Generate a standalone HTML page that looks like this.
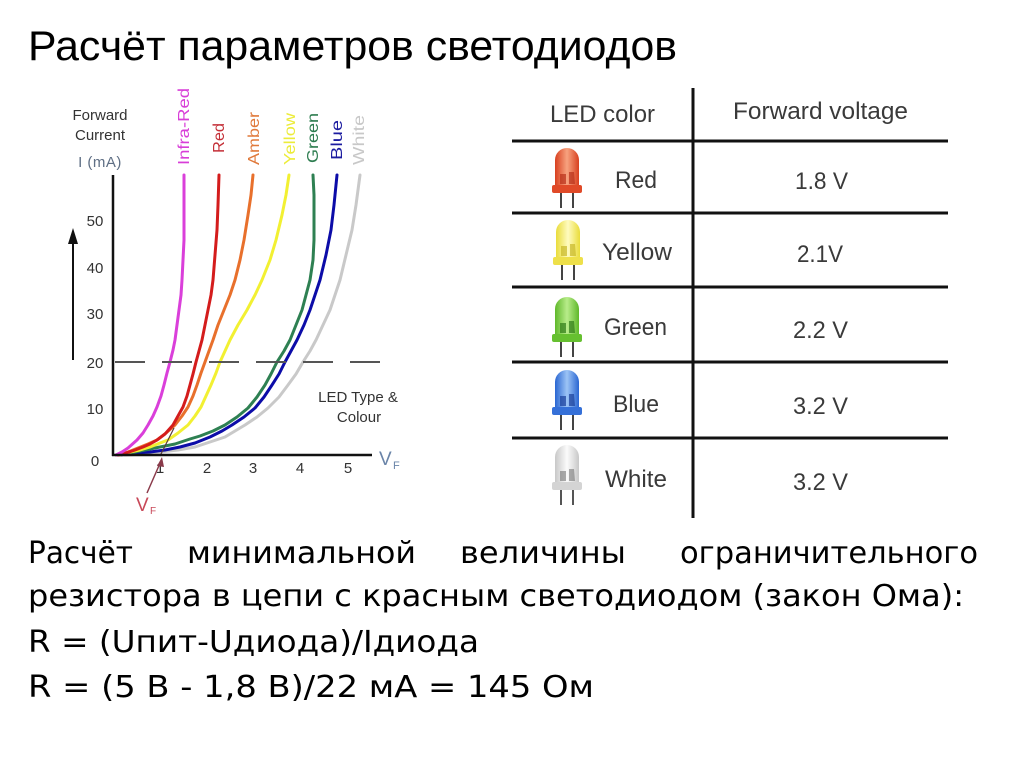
<!DOCTYPE html>
<html>
<head>
<meta charset="utf-8">
<style>
  html,body{margin:0;padding:0;background:#fff;}
  svg{display:block;}
</style>
</head>
<body>
<svg width="1024" height="767" viewBox="0 0 1024 767" xmlns="http://www.w3.org/2000/svg">
  <defs>
    <linearGradient id="gRed" x1="0" x2="1" y1="0" y2="0">
      <stop offset="0" stop-color="#d8401f"/>
      <stop offset="0.5" stop-color="#f7a27f"/>
      <stop offset="1" stop-color="#d8401f"/>
    </linearGradient>
    <linearGradient id="gYel" x1="0" x2="1" y1="0" y2="0">
      <stop offset="0" stop-color="#e9dc3a"/>
      <stop offset="0.5" stop-color="#fffbc0"/>
      <stop offset="1" stop-color="#e9dc3a"/>
    </linearGradient>
    <linearGradient id="gGrn" x1="0" x2="1" y1="0" y2="0">
      <stop offset="0" stop-color="#5fb82a"/>
      <stop offset="0.5" stop-color="#b8ec8a"/>
      <stop offset="1" stop-color="#5fb82a"/>
    </linearGradient>
    <linearGradient id="gBlu" x1="0" x2="1" y1="0" y2="0">
      <stop offset="0" stop-color="#2a66d2"/>
      <stop offset="0.5" stop-color="#9cc4f5"/>
      <stop offset="1" stop-color="#2a66d2"/>
    </linearGradient>
    <linearGradient id="gWht" x1="0" x2="1" y1="0" y2="0">
      <stop offset="0" stop-color="#c8c8c8"/>
      <stop offset="0.5" stop-color="#fbfbfb"/>
      <stop offset="1" stop-color="#c8c8c8"/>
    </linearGradient>
  </defs>

  <rect x="0" y="0" width="1024" height="767" fill="#fff"/>

  <!-- Title -->
  <text x="28" y="60" font-family="Liberation Sans, Arial, sans-serif" font-size="42" fill="#000" textLength="649" lengthAdjust="spacingAndGlyphs">Расчёт параметров светодиодов</text>

  <!-- ================= CHART ================= -->
  <g font-family="Liberation Sans, Arial, sans-serif">
    <!-- axis header -->
    <text x="100" y="120" font-size="15" fill="#333" text-anchor="middle">Forward</text>
    <text x="100" y="140" font-size="15" fill="#333" text-anchor="middle">Current</text>
    <text x="100" y="167" font-size="15" fill="#5f6f85" text-anchor="middle" letter-spacing="0.5">I (mA)</text>

    <!-- rotated series labels -->
    <text transform="translate(189,126.5) rotate(-90)" font-size="16" fill="#d83ed8" text-anchor="middle" textLength="77" lengthAdjust="spacingAndGlyphs">Infra-Red</text>
    <text transform="translate(224,138) rotate(-90)" font-size="16" fill="#c43038" text-anchor="middle" textLength="30" lengthAdjust="spacingAndGlyphs">Red</text>
    <text transform="translate(259,138.5) rotate(-90)" font-size="16" fill="#e07a3c" text-anchor="middle" textLength="53" lengthAdjust="spacingAndGlyphs">Amber</text>
    <text transform="translate(295,139) rotate(-90)" font-size="16" fill="#ecec3a" text-anchor="middle" textLength="52" lengthAdjust="spacingAndGlyphs">Yellow</text>
    <text transform="translate(318,138) rotate(-90)" font-size="16" fill="#2e7d50" text-anchor="middle" textLength="50" lengthAdjust="spacingAndGlyphs">Green</text>
    <text transform="translate(342,140) rotate(-90)" font-size="16" fill="#1c1ca0" text-anchor="middle" textLength="40" lengthAdjust="spacingAndGlyphs">Blue</text>
    <text transform="translate(364,140) rotate(-90)" font-size="16" fill="#c8c8c8" text-anchor="middle" textLength="50" lengthAdjust="spacingAndGlyphs">White</text>

    <!-- y tick labels -->
    <g font-size="15" fill="#333" text-anchor="middle">
      <text x="95" y="226">50</text>
      <text x="95" y="273">40</text>
      <text x="95" y="319">30</text>
      <text x="95" y="368">20</text>
      <text x="95" y="414">10</text>
      <text x="95" y="466">0</text>
    </g>
    <!-- x tick labels -->
    <g font-size="15" fill="#333" text-anchor="middle">
      <text x="160" y="473">1</text>
      <text x="207" y="473">2</text>
      <text x="253" y="473">3</text>
      <text x="300" y="473">4</text>
      <text x="348" y="473">5</text>
    </g>

    <!-- LED Type & Colour -->
    <text x="358" y="402" font-size="15" fill="#333" text-anchor="middle">LED Type &amp;</text>
    <text x="359" y="422" font-size="15" fill="#333" text-anchor="middle">Colour</text>

    <!-- VF axis label -->
    <text x="379" y="465" font-size="19" fill="#6a84a8">V</text>
    <text x="393" y="469" font-size="11" fill="#6a84a8">F</text>

    <!-- VF annotation bottom -->
    <text x="136" y="511" font-size="19" fill="#c84858">V</text>
    <text x="150" y="514" font-size="10" fill="#c84858">F</text>
  </g>

  <!-- left vertical arrow -->
  <line x1="73" y1="240" x2="73" y2="360" stroke="#111" stroke-width="2"/>
  <polygon points="73,228 68,244 78,244" fill="#111"/>

  <!-- curves -->
  <g fill="none" stroke-width="3" stroke-linejoin="round" stroke-linecap="round">
    <polyline stroke="#c9c9c9" points="125,455 145,454 160,452 178,450 195,447 210,442 225,437 235,431 245,425 257,417 268,408 279,397 288,385 296,374 303,362 310,351 316,340 323,325 330,310 335,295 340,280 346,255 352,230 356,205 360,175"/>
    <polyline stroke="#0c0ca8" points="120,455 135,453 150,452 165,450 180,447 195,443 210,437 222,431 232,425 244,417 255,408 264,397 272,385 279,374 285,362 291,351 297,340 304,325 310,310 315,295 320,280 326,255 331,230 334,205 337,175"/>
    <polyline stroke="#2e8052" points="118,455 130,453 145,450 160,447 175,444 190,439 200,436 213,431 225,425 237,417 248,408 257,397 265,385 271,374 277,362 284,351 290,340 296,325 302,310 306,295 310,280 313,260 314,240 314,215 314,195 313,175"/>
    <polyline stroke="#f2f032" points="120,455 130,452 140,450 150,447 160,443 168,440 178,433 188,425 195,416 201,407 206,396 211,385 216,373 220,362 225,351 230,340 238,325 247,310 255,295 262,280 270,260 276,240 282,215 286,195 289,175"/>
    <polyline stroke="#e8702c" points="118,455 128,452 138,448 148,444 157,440 166,433 175,425 182,416 188,407 193,396 197,385 201,373 205,362 209,351 213,340 218,325 224,310 230,295 235,280 240,260 244,240 248,215 251,195 253,175"/>
    <polyline stroke="#d41c1c" points="118,455 126,453 135,450 143,447 150,444 157,440 165,434 173,425 178,416 183,407 187,396 190,385 193,374 196,362 199,351 202,340 205,325 208,310 211,295 213,280 215,255 217,230 218,205 219,175"/>
    <polyline stroke="#da3fda" points="116,455 122,452 128,448 137,440 143,433 148,425 153,416 157,407 161,396 164,385 167,373 170,362 173,350 175,340 177,325 179,310 181,295 182,280 183,260 184,240 184,210 184,175"/>
  </g>

  <!-- dashed 20 mA line -->
  <line x1="115" y1="362" x2="383" y2="362" stroke="#555" stroke-width="2" stroke-dasharray="30 17"/>

  <!-- tangent line & VF arrow -->
  <line x1="160" y1="456" x2="174" y2="428" stroke="#5a3a3a" stroke-width="1.2"/>
  <line x1="147" y1="493" x2="161" y2="461" stroke="#8a3a4a" stroke-width="1.5"/>
  <polygon points="162,457 157,466 164,467" fill="#8a3a4a"/>

  <!-- axes -->
  <line x1="113" y1="175" x2="113" y2="456" stroke="#111" stroke-width="2.5"/>
  <line x1="112" y1="455" x2="372" y2="455" stroke="#111" stroke-width="2.5"/>

  <!-- ================= TABLE ================= -->
  <g stroke="#111" stroke-width="3">
    <line x1="693" y1="88" x2="693" y2="518"/>
    <line x1="512" y1="141" x2="948" y2="141"/>
    <line x1="512" y1="213" x2="948" y2="213"/>
    <line x1="512" y1="287" x2="948" y2="287"/>
    <line x1="512" y1="362" x2="948" y2="362"/>
    <line x1="512" y1="438" x2="948" y2="438"/>
  </g>

  <g font-family="Liberation Sans, Arial, sans-serif" font-size="24" fill="#3a3a3a">
    <text x="550" y="122" textLength="105" lengthAdjust="spacingAndGlyphs">LED color</text>
    <text x="733" y="119" textLength="175" lengthAdjust="spacingAndGlyphs">Forward voltage</text>

    <text x="615" y="188" textLength="42" lengthAdjust="spacingAndGlyphs">Red</text>
    <text x="795" y="189" textLength="53" lengthAdjust="spacingAndGlyphs">1.8 V</text>

    <text x="602" y="260" textLength="70" lengthAdjust="spacingAndGlyphs">Yellow</text>
    <text x="797" y="262" textLength="46" lengthAdjust="spacingAndGlyphs">2.1V</text>

    <text x="604" y="335" textLength="63" lengthAdjust="spacingAndGlyphs">Green</text>
    <text x="793" y="338" textLength="55" lengthAdjust="spacingAndGlyphs">2.2 V</text>

    <text x="613" y="412" textLength="46" lengthAdjust="spacingAndGlyphs">Blue</text>
    <text x="793" y="414" textLength="55" lengthAdjust="spacingAndGlyphs">3.2 V</text>

    <text x="605" y="487" textLength="62" lengthAdjust="spacingAndGlyphs">White</text>
    <text x="793" y="490" textLength="55" lengthAdjust="spacingAndGlyphs">3.2 V</text>
  </g>

  <!-- LEDs -->
  <!-- Red -->
  <g transform="translate(552,148)">
    <path d="M3,42 V12 A12,12 0 0 1 27,12 V42 Z" fill="url(#gRed)"/>
    <rect x="0" y="37" width="30" height="8" rx="2" fill="#e04a28"/>
    <path d="M8,26 h6 v10 h-6 z M17,24 h5 l1,12 h-6 z" fill="#b8301a" opacity="0.7"/>
    <line x1="9" y1="45" x2="9" y2="60" stroke="#444" stroke-width="2"/>
    <line x1="21" y1="45" x2="21" y2="60" stroke="#444" stroke-width="2"/>
  </g>
  <!-- Yellow -->
  <g transform="translate(553,220)">
    <path d="M3,42 V12 A12,12 0 0 1 27,12 V42 Z" fill="url(#gYel)"/>
    <rect x="0" y="37" width="30" height="8" rx="2" fill="#eee04a"/>
    <path d="M8,26 h6 v10 h-6 z M17,24 h5 l1,12 h-6 z" fill="#c8b828" opacity="0.7"/>
    <line x1="9" y1="45" x2="9" y2="60" stroke="#444" stroke-width="2"/>
    <line x1="21" y1="45" x2="21" y2="60" stroke="#444" stroke-width="2"/>
  </g>
  <!-- Green -->
  <g transform="translate(552,297)">
    <path d="M3,42 V12 A12,12 0 0 1 27,12 V42 Z" fill="url(#gGrn)"/>
    <rect x="0" y="37" width="30" height="8" rx="2" fill="#66c030"/>
    <path d="M8,26 h6 v10 h-6 z M17,24 h5 l1,12 h-6 z" fill="#2f7a18" opacity="0.7"/>
    <line x1="9" y1="45" x2="9" y2="60" stroke="#444" stroke-width="2"/>
    <line x1="21" y1="45" x2="21" y2="60" stroke="#444" stroke-width="2"/>
  </g>
  <!-- Blue -->
  <g transform="translate(552,370)">
    <path d="M3,42 V12 A12,12 0 0 1 27,12 V42 Z" fill="url(#gBlu)"/>
    <rect x="0" y="37" width="30" height="8" rx="2" fill="#3570d8"/>
    <path d="M8,26 h6 v10 h-6 z M17,24 h5 l1,12 h-6 z" fill="#1a3e9a" opacity="0.7"/>
    <line x1="9" y1="45" x2="9" y2="60" stroke="#444" stroke-width="2"/>
    <line x1="21" y1="45" x2="21" y2="60" stroke="#444" stroke-width="2"/>
  </g>
  <!-- White -->
  <g transform="translate(552,445)">
    <path d="M3,42 V12 A12,12 0 0 1 27,12 V42 Z" fill="url(#gWht)"/>
    <rect x="0" y="37" width="30" height="8" rx="2" fill="#d4d4d4"/>
    <path d="M8,26 h6 v10 h-6 z M17,24 h5 l1,12 h-6 z" fill="#777" opacity="0.6"/>
    <line x1="9" y1="45" x2="9" y2="60" stroke="#555" stroke-width="2"/>
    <line x1="21" y1="45" x2="21" y2="60" stroke="#555" stroke-width="2"/>
  </g>

  <!-- ================= BODY TEXT ================= -->
  <g font-family="DejaVu Sans, Verdana, sans-serif" font-size="30" fill="#000">
    <text x="28" y="563" textLength="105" lengthAdjust="spacingAndGlyphs">Расчёт</text>
    <text x="187" y="563" textLength="229" lengthAdjust="spacingAndGlyphs">минимальной</text>
    <text x="460" y="563" textLength="166" lengthAdjust="spacingAndGlyphs">величины</text>
    <text x="680" y="563" textLength="298" lengthAdjust="spacingAndGlyphs">ограничительного</text>

    <text x="28" y="606" textLength="936" lengthAdjust="spacingAndGlyphs">резистора в цепи с красным светодиодом (закон Ома):</text>
    <text x="28" y="652" textLength="451" lengthAdjust="spacingAndGlyphs">R = (Uпит-Uдиода)/Iдиода</text>
    <text x="28" y="697" textLength="566" lengthAdjust="spacingAndGlyphs">R = (5 В - 1,8 В)/22 мА = 145 Ом</text>
  </g>
</svg>
</body>
</html>
